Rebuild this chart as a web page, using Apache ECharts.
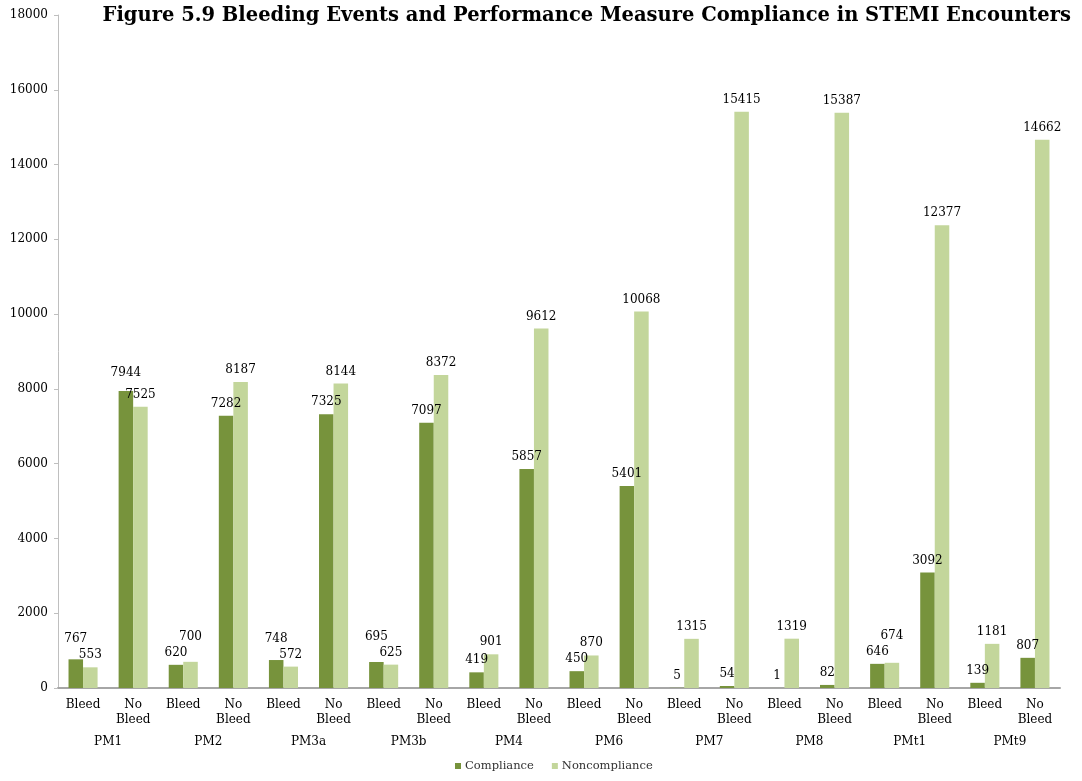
<!DOCTYPE html>
<html>
<head>
<meta charset="utf-8">
<script src="https://cdn.jsdelivr.net/npm/echarts@6/dist/echarts.min.js"></script>
<style>
  html, body { margin: 0; padding: 0; background: #ffffff; }
  #chart { width: 1082px; height: 781px; }
</style>
</head>
<body>
<div id="chart"></div>
<script>
// Bleeding events vs. performance measure compliance, STEMI encounters
const measures = ['PM1', 'PM2', 'PM3a', 'PM3b', 'PM4', 'PM6', 'PM7', 'PM8', 'PMt1', 'PMt9'];
const bleedStatus = ['Bleed', 'No\nBleed'];

// values per measure: [Bleed, No Bleed]
const compliance = [
  767, 7944,
  620, 7282,
  748, 7325,
  695, 7097,
  419, 5857,
  450, 5401,
  5, 54,
  1, 82,
  646, 3092,
  139, 807
];
const noncompliance = [
  553, 7525,
  700, 8187,
  572, 8144,
  625, 8372,
  901, 9612,
  870, 10068,
  1315, 15415,
  1319, 15387,
  674, 12377,
  1181, 14662
];
const yTicks = [0, 2000, 4000, 6000, 8000, 10000, 12000, 14000, 16000, 18000];

const subCategories = [];
measures.forEach(() => bleedStatus.forEach(s => subCategories.push(s)));

const serif = 'DejaVu Serif';
const chart = echarts.init(document.getElementById('chart'));

// When the two labels of a category would collide, lift the taller bar's label
// above the shorter one's (wider four-digit labels need a larger step).
function staggerLabel(own, other) {
  return function (params) {
    const i = params.dataIndex;
    if (own[i] <= other[i]) return {};
    const step = String(own[i]).length >= 4 ? 22 : 16;
    const yOwn = chart.convertToPixel({ yAxisIndex: 0 }, own[i]);
    const yOther = chart.convertToPixel({ yAxisIndex: 0 }, other[i]);
    const gap = yOther - yOwn;
    if (gap >= step) return {};
    return { dy: -(step - gap) };
  };
}

const labelStyle = { show: true, position: 'top', distance: 6, fontFamily: serif, fontSize: 12, color: '#000000' };

chart.setOption({
  animation: false,
  textStyle: { fontFamily: serif },
  title: {
    text: 'Figure 5.9 Bleeding Events and Performance Measure Compliance in STEMI Encounters',
    right: 6,
    top: 1,
    textStyle: { fontFamily: serif, fontWeight: 'bold', fontSize: 19.5, color: '#000000' }
  },
  legend: {
    bottom: 4,
    left: 450,
    itemWidth: 6,
    itemHeight: 6,
    itemGap: 18,
    icon: 'rect',
    textStyle: { fontFamily: serif, fontSize: 11.5, color: '#333333', padding: [0, 0, 0, -1] },
    data: ['Compliance', 'Noncompliance']
  },
  grid: { left: 58, right: 22, top: 15, bottom: 93, containLabel: false },
  xAxis: [
    {
      type: 'category',
      data: subCategories,
      axisLine: { lineStyle: { color: '#a6a6a6', width: 2 } },
      axisTick: { show: false },
      axisLabel: { interval: 0, fontFamily: serif, fontSize: 12, color: '#000000', lineHeight: 15, margin: 9 }
    },
    {
      type: 'category',
      data: measures,
      position: 'bottom',
      axisLine: { show: false },
      axisTick: { show: false },
      axisLabel: { interval: 0, fontFamily: serif, fontSize: 12, color: '#000000', margin: 48 }
    }
  ],
  yAxis: {
    type: 'value',
    min: yTicks[0],
    max: yTicks[yTicks.length - 1],
    interval: yTicks[1] - yTicks[0],
    axisLine: { show: true, lineStyle: { color: '#bfbfbf', width: 1 } },
    axisTick: { show: true, length: 4, lineStyle: { color: '#bfbfbf' } },
    splitLine: { show: false },
    axisLabel: { fontFamily: serif, fontSize: 12, color: '#000000', margin: 10, formatter: v => String(v) }
  },
  series: [
    {
      name: 'Compliance',
      type: 'bar',
      xAxisIndex: 0,
      data: compliance,
      barWidth: '29%',
      barGap: '0%',
      itemStyle: { color: '#77933c' },
      label: labelStyle,
      labelLayout: staggerLabel(compliance, noncompliance)
    },
    {
      name: 'Noncompliance',
      type: 'bar',
      xAxisIndex: 0,
      data: noncompliance,
      barWidth: '29%',
      barGap: '0%',
      itemStyle: { color: '#c3d69b' },
      label: labelStyle,
      labelLayout: staggerLabel(noncompliance, compliance)
    }
  ]
});
</script>
</body>
</html>
